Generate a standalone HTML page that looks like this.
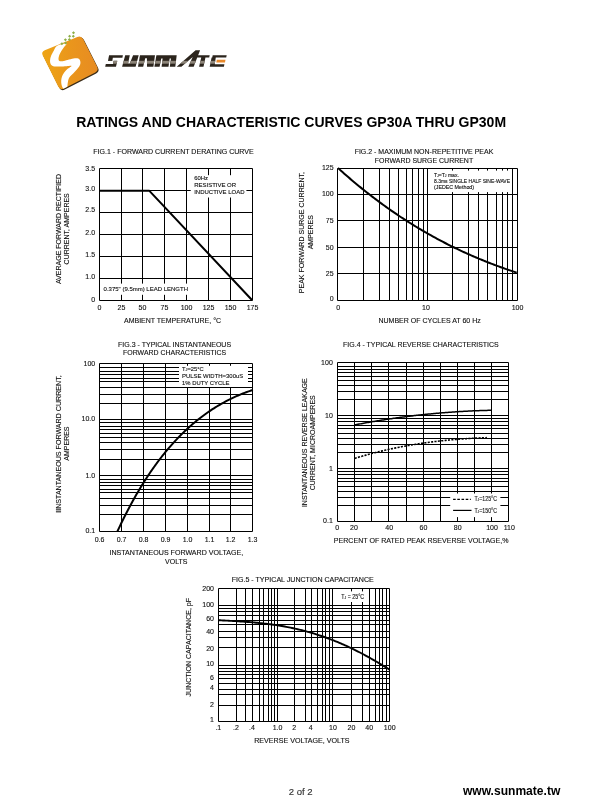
<!DOCTYPE html>
<html><head><meta charset="utf-8"><title>GP30A-GP30M Ratings and Characteristic Curves</title>
<style>
html,body{margin:0;padding:0;background:#fff;}
body{width:610px;height:810px;overflow:hidden;font-family:"Liberation Sans",sans-serif;}
svg{display:block;will-change:transform;}
svg text{font-family:"Liberation Sans",sans-serif;stroke:#111;stroke-width:0.12px;}
svg text[font-weight="bold"]{stroke:none;}
</style></head>
<body>
<svg width="610" height="810" viewBox="0 0 610 810">
<rect width="610" height="810" fill="#fff"/>
<defs>
<linearGradient id="lg" x1="0" y1="0" x2="1" y2="0"><stop offset="0" stop-color="#EEA515"/><stop offset="0.5" stop-color="#EA961C"/><stop offset="1" stop-color="#E78B22"/></linearGradient>
<clipPath id="sq"><path d="M42.77,55.56 Q40.90,51.80 44.79,50.21 L77.31,36.89 Q81.20,35.30 83.09,39.05 L97.11,66.85 Q99.00,70.60 95.26,72.52 L63.94,88.58 Q60.20,90.50 58.33,86.74 Z"/></clipPath>
</defs>
<path d="M43.67,56.46 Q41.80,52.70 45.69,51.11 L78.21,37.79 Q82.10,36.20 83.99,39.95 L98.01,67.75 Q99.90,71.50 96.16,73.42 L64.84,89.48 Q61.10,91.40 59.23,87.64 Z" fill="#3a2c18"/>
<path d="M42.77,55.56 Q40.90,51.80 44.79,50.21 L77.31,36.89 Q81.20,35.30 83.09,39.05 L97.11,66.85 Q99.00,70.60 95.26,72.52 L63.94,88.58 Q60.20,90.50 58.33,86.74 Z" fill="url(#lg)"/>
<path d="M57.21,45.73 C55.14,46.90 54.80,48.93 53.77,50.65 C52.74,52.37 51.63,54.42 51.01,56.06 C50.39,57.70 50.09,59.17 50.03,60.48 C49.97,61.79 50.08,62.97 50.62,63.92 C51.16,64.87 51.76,65.74 53.27,66.18 C54.78,66.62 57.46,66.58 59.67,66.58 C61.88,66.58 64.58,66.30 66.55,66.18 C68.52,66.07 71.23,65.49 71.47,65.89 C71.71,66.29 69.18,67.55 68.00,68.60 C66.82,69.65 65.38,70.93 64.40,72.20 C63.42,73.47 62.63,74.80 62.10,76.20 C61.57,77.60 61.28,79.12 61.20,80.60 C61.12,82.08 61.20,83.70 61.60,85.10 C62.00,86.50 62.69,88.35 63.60,89.00 C64.51,89.65 66.39,89.66 67.04,89.00 C67.70,88.34 67.37,86.37 67.53,85.06 C67.69,83.75 67.69,82.44 68.02,81.13 C68.35,79.82 68.60,78.51 69.50,77.20 C70.40,75.89 72.04,74.74 73.43,73.26 C74.82,71.78 76.71,69.91 77.86,68.35 C79.01,66.79 79.98,65.31 80.31,63.92 C80.64,62.53 80.31,60.92 79.82,59.99 C79.33,59.06 78.42,58.56 77.36,58.32 C76.30,58.08 75.07,58.24 73.43,58.52 C71.79,58.80 69.33,59.53 67.53,59.99 C65.73,60.45 63.99,61.12 62.62,61.27 C61.25,61.42 59.99,61.34 59.30,60.90 C58.61,60.45 58.50,59.58 58.50,58.60 C58.50,57.62 58.85,56.23 59.30,55.00 C59.75,53.77 60.48,52.40 61.20,51.20 C61.92,50.00 62.77,49.07 63.60,47.80 C64.43,46.53 67.27,43.95 66.20,43.60 C65.14,43.26 59.28,44.55 57.21,45.73Z" fill="#fff" clip-path="url(#sq)"/>
<rect x="60.80" y="42.60" width="2.2" height="2.2" fill="#8FAE45" transform="rotate(45 61.9 43.7)"/>
<rect x="64.30" y="38.70" width="2.2" height="2.2" fill="#8FAE45" transform="rotate(45 65.4 39.8)"/>
<rect x="68.50" y="35.20" width="2.2" height="2.2" fill="#8FAE45" transform="rotate(45 69.6 36.3)"/>
<rect x="72.40" y="31.60" width="2.2" height="2.2" fill="#8FAE45" transform="rotate(45 73.5 32.7)"/>
<rect x="64.50" y="41.90" width="2.2" height="2.2" fill="#8FAE45" transform="rotate(45 65.6 43.0)"/>
<rect x="68.30" y="38.50" width="2.2" height="2.2" fill="#8FAE45" transform="rotate(45 69.4 39.6)"/>
<rect x="72.20" y="35.20" width="2.2" height="2.2" fill="#8FAE45" transform="rotate(45 73.3 36.3)"/>
<defs><clipPath id="wm"><polygon points="109.10,55.30 122.90,55.30 122.40,57.80 108.60,57.80"/><polygon points="108.60,57.60 112.90,57.60 112.30,61.00 108.00,61.00"/><polygon points="113.60,60.80 117.30,60.80 116.60,64.30 112.90,64.30"/><polygon points="105.80,64.00 116.60,64.00 116.00,66.80 105.20,66.80"/><polygon points="125.20,55.30 129.80,55.30 127.40,66.70 122.10,66.70"/><polygon points="133.10,55.30 138.70,55.30 135.60,66.70 128.50,66.70"/><polygon points="123.00,63.60 134.60,63.60 134.00,66.70 122.40,66.70"/><polygon points="140.00,55.30 145.90,55.30 143.20,66.70 138.00,66.70"/><polygon points="146.90,55.30 155.00,55.30 153.40,66.70 147.00,66.70"/><polygon points="140.00,55.30 155.00,55.30 154.40,58.20 139.40,58.20"/><polygon points="156.40,55.30 161.90,55.30 159.60,66.70 154.40,66.70"/><polygon points="156.40,55.30 176.70,55.30 176.10,58.40 155.80,58.40"/><polygon points="163.00,55.30 170.10,55.30 168.50,66.70 161.60,66.70"/><polygon points="171.40,55.30 176.70,55.30 175.30,66.70 169.80,66.70"/><polygon points="176.70,66.70 195.60,50.20 200.10,50.20 193.70,66.70 188.30,66.70 192.70,56.90 181.40,66.70"/><polygon points="197.10,55.30 209.70,55.30 209.20,57.60 196.60,57.60"/><polygon points="201.30,57.40 205.50,57.40 203.50,66.70 199.10,66.70"/><polygon points="212.70,55.30 226.70,55.30 226.20,57.60 212.20,57.60"/><polygon points="211.60,57.40 215.80,57.40 214.40,66.70 209.70,66.70"/><polygon points="210.30,64.20 224.40,64.20 223.90,66.70 209.70,66.70"/></clipPath></defs>
<g clip-path="url(#wm)"><rect x="100" y="48" width="130" height="20" fill="#2b241c"/><rect x="100" y="60.8" width="130" height="2.9" fill="#8c8478"/></g>
<polygon points="216.80,59.80 225.50,59.80 225.00,62.50 216.30,62.50" fill="#E98A2C"/>
<line x1="99.50" y1="168.50" x2="99.50" y2="300.50" stroke="#000" stroke-width="1" />
<line x1="121.50" y1="168.50" x2="121.50" y2="300.50" stroke="#000" stroke-width="1" />
<line x1="142.50" y1="168.50" x2="142.50" y2="300.50" stroke="#000" stroke-width="1" />
<line x1="164.50" y1="168.50" x2="164.50" y2="300.50" stroke="#000" stroke-width="1" />
<line x1="186.50" y1="168.50" x2="186.50" y2="300.50" stroke="#000" stroke-width="1" />
<line x1="208.50" y1="168.50" x2="208.50" y2="300.50" stroke="#000" stroke-width="1" />
<line x1="230.50" y1="168.50" x2="230.50" y2="300.50" stroke="#000" stroke-width="1" />
<line x1="252.50" y1="168.50" x2="252.50" y2="300.50" stroke="#000" stroke-width="1" />
<line x1="99.50" y1="168.50" x2="252.50" y2="168.50" stroke="#000" stroke-width="1" />
<line x1="99.50" y1="190.50" x2="252.50" y2="190.50" stroke="#000" stroke-width="1" />
<line x1="99.50" y1="212.50" x2="252.50" y2="212.50" stroke="#000" stroke-width="1" />
<line x1="99.50" y1="234.50" x2="252.50" y2="234.50" stroke="#000" stroke-width="1" />
<line x1="99.50" y1="256.50" x2="252.50" y2="256.50" stroke="#000" stroke-width="1" />
<line x1="99.50" y1="278.50" x2="252.50" y2="278.50" stroke="#000" stroke-width="1" />
<line x1="99.50" y1="300.50" x2="252.50" y2="300.50" stroke="#000" stroke-width="1" />
<path d="M99.5,190.85 L149.4,190.85 L252.2,300.2" fill="none" stroke="#000" stroke-width="2.0" stroke-linejoin="round" stroke-linecap="butt" />
<rect x="190.70" y="175.20" width="55.70" height="22.30" fill="#fff"/>
<text x="194.20" y="179.90" font-size="5.8" text-anchor="start" font-weight="normal" fill="#111" textLength="13.80" lengthAdjust="spacingAndGlyphs" >60Hz</text>
<text x="194.20" y="186.90" font-size="5.8" text-anchor="start" font-weight="normal" fill="#111" textLength="41.90" lengthAdjust="spacingAndGlyphs" >RESISTIVE OR</text>
<text x="194.20" y="193.60" font-size="5.6" text-anchor="start" font-weight="normal" fill="#111" textLength="50.30" lengthAdjust="spacingAndGlyphs" >INDUCTIVE LOAD</text>
<rect x="100.50" y="283.60" width="89.50" height="11.20" fill="#fff"/>
<text x="103.60" y="290.90" font-size="6.0" text-anchor="start" font-weight="normal" fill="#111" textLength="84.40" lengthAdjust="spacingAndGlyphs" >0.375" (9.5mm) LEAD LENGTH</text>
<text x="173.50" y="154.32" font-size="7" text-anchor="middle" font-weight="normal" fill="#111" textLength="160.40" lengthAdjust="spacingAndGlyphs" >FIG.1 - FORWARD CURRENT DERATING CURVE</text>
<text x="95.10" y="171.12" font-size="7" text-anchor="end" font-weight="normal" fill="#111" >3.5</text>
<text x="95.10" y="191.22" font-size="7" text-anchor="end" font-weight="normal" fill="#111" >3.0</text>
<text x="95.10" y="212.12" font-size="7" text-anchor="end" font-weight="normal" fill="#111" >2.5</text>
<text x="95.10" y="235.32" font-size="7" text-anchor="end" font-weight="normal" fill="#111" >2.0</text>
<text x="95.10" y="257.02" font-size="7" text-anchor="end" font-weight="normal" fill="#111" >1.5</text>
<text x="95.10" y="279.12" font-size="7" text-anchor="end" font-weight="normal" fill="#111" >1.0</text>
<text x="95.10" y="302.12" font-size="7" text-anchor="end" font-weight="normal" fill="#111" >0</text>
<text x="99.50" y="310.22" font-size="7" text-anchor="middle" font-weight="normal" fill="#111" >0</text>
<text x="121.50" y="310.22" font-size="7" text-anchor="middle" font-weight="normal" fill="#111" >25</text>
<text x="142.50" y="310.22" font-size="7" text-anchor="middle" font-weight="normal" fill="#111" >50</text>
<text x="164.50" y="310.22" font-size="7" text-anchor="middle" font-weight="normal" fill="#111" >75</text>
<text x="186.50" y="310.22" font-size="7" text-anchor="middle" font-weight="normal" fill="#111" >100</text>
<text x="208.50" y="310.22" font-size="7" text-anchor="middle" font-weight="normal" fill="#111" >125</text>
<text x="230.50" y="310.22" font-size="7" text-anchor="middle" font-weight="normal" fill="#111" >150</text>
<text x="252.50" y="310.22" font-size="7" text-anchor="middle" font-weight="normal" fill="#111" >175</text>
<text x="172.50" y="322.82" font-size="7" text-anchor="middle" font-weight="normal" fill="#111" textLength="97.00" lengthAdjust="spacingAndGlyphs" >AMBIENT TEMPERATURE, °C</text>
<text x="0" y="0" font-size="7" text-anchor="middle" fill="#111" textLength="110.10" lengthAdjust="spacingAndGlyphs" transform="translate(60.82,229.00) rotate(-90)">AVERAGE FORWARD RECTIFIED</text>
<text x="0" y="0" font-size="7" text-anchor="middle" fill="#111" transform="translate(69.22,228.80) rotate(-90)">CURRENT, AMPERES</text>
<line x1="337.50" y1="168.50" x2="337.50" y2="300.50" stroke="#000" stroke-width="1" />
<line x1="363.50" y1="168.50" x2="363.50" y2="300.50" stroke="#000" stroke-width="1" />
<line x1="379.50" y1="168.50" x2="379.50" y2="300.50" stroke="#000" stroke-width="1" />
<line x1="389.50" y1="168.50" x2="389.50" y2="300.50" stroke="#000" stroke-width="1" />
<line x1="398.50" y1="168.50" x2="398.50" y2="300.50" stroke="#000" stroke-width="1" />
<line x1="406.50" y1="168.50" x2="406.50" y2="300.50" stroke="#000" stroke-width="1" />
<line x1="412.50" y1="168.50" x2="412.50" y2="300.50" stroke="#000" stroke-width="1" />
<line x1="418.50" y1="168.50" x2="418.50" y2="300.50" stroke="#000" stroke-width="1" />
<line x1="423.50" y1="168.50" x2="423.50" y2="300.50" stroke="#000" stroke-width="1" />
<line x1="427.50" y1="168.50" x2="427.50" y2="300.50" stroke="#000" stroke-width="1" />
<line x1="452.50" y1="168.50" x2="452.50" y2="300.50" stroke="#000" stroke-width="1" />
<line x1="468.50" y1="168.50" x2="468.50" y2="300.50" stroke="#000" stroke-width="1" />
<line x1="478.50" y1="168.50" x2="478.50" y2="300.50" stroke="#000" stroke-width="1" />
<line x1="487.50" y1="168.50" x2="487.50" y2="300.50" stroke="#000" stroke-width="1" />
<line x1="496.50" y1="168.50" x2="496.50" y2="300.50" stroke="#000" stroke-width="1" />
<line x1="502.50" y1="168.50" x2="502.50" y2="300.50" stroke="#000" stroke-width="1" />
<line x1="507.50" y1="168.50" x2="507.50" y2="300.50" stroke="#000" stroke-width="1" />
<line x1="512.50" y1="168.50" x2="512.50" y2="300.50" stroke="#000" stroke-width="1" />
<line x1="517.50" y1="168.50" x2="517.50" y2="300.50" stroke="#000" stroke-width="1" />
<line x1="337.50" y1="168.50" x2="517.50" y2="168.50" stroke="#000" stroke-width="1" />
<line x1="337.50" y1="194.50" x2="517.50" y2="194.50" stroke="#000" stroke-width="1" />
<line x1="337.50" y1="220.50" x2="517.50" y2="220.50" stroke="#000" stroke-width="1" />
<line x1="337.50" y1="247.50" x2="517.50" y2="247.50" stroke="#000" stroke-width="1" />
<line x1="337.50" y1="273.50" x2="517.50" y2="273.50" stroke="#000" stroke-width="1" />
<line x1="337.50" y1="300.50" x2="517.50" y2="300.50" stroke="#000" stroke-width="1" />
<path d="M338.00,168.03 L339.50,169.38 L341.00,170.73 L342.51,172.07 L344.01,173.40 L345.51,174.72 L347.01,176.03 L348.51,177.33 L350.01,178.62 L351.52,179.90 L353.02,181.17 L354.52,182.43 L356.02,183.69 L357.52,184.93 L359.02,186.17 L360.53,187.39 L362.03,188.61 L363.53,189.82 L365.03,191.02 L366.53,192.21 L368.03,193.39 L369.54,194.56 L371.04,195.72 L372.54,196.88 L374.04,198.03 L375.54,199.16 L377.04,200.29 L378.55,201.41 L380.05,202.52 L381.55,203.63 L383.05,204.72 L384.55,205.81 L386.05,206.89 L387.56,207.96 L389.06,209.02 L390.56,210.07 L392.06,211.11 L393.56,212.15 L395.06,213.18 L396.57,214.20 L398.07,215.21 L399.57,216.21 L401.07,217.21 L402.57,218.20 L404.07,219.18 L405.58,220.15 L407.08,221.11 L408.58,222.07 L410.08,223.01 L411.58,223.95 L413.08,224.89 L414.59,225.81 L416.09,226.73 L417.59,227.64 L419.09,228.54 L420.59,229.43 L422.09,230.32 L423.60,231.20 L425.10,232.07 L426.60,232.94 L428.10,233.79 L429.60,234.64 L431.10,235.49 L432.61,236.32 L434.11,237.15 L435.61,237.97 L437.11,238.78 L438.61,239.59 L440.11,240.39 L441.62,241.18 L443.12,241.96 L444.62,242.74 L446.12,243.51 L447.62,244.28 L449.12,245.04 L450.63,245.79 L452.13,246.53 L453.63,247.27 L455.13,248.00 L456.63,248.72 L458.13,249.44 L459.64,250.15 L461.14,250.85 L462.64,251.55 L464.14,252.24 L465.64,252.93 L467.14,253.61 L468.65,254.28 L470.15,254.94 L471.65,255.60 L473.15,256.25 L474.65,256.90 L476.15,257.54 L477.66,258.18 L479.16,258.80 L480.66,259.43 L482.16,260.04 L483.66,260.65 L485.16,261.26 L486.67,261.86 L488.17,262.45 L489.67,263.03 L491.17,263.62 L492.67,264.19 L494.17,264.76 L495.68,265.32 L497.18,265.88 L498.68,266.43 L500.18,266.98 L501.68,267.52 L503.18,268.06 L504.69,268.59 L506.19,269.11 L507.69,269.63 L509.19,270.15 L510.69,270.65 L512.19,271.16 L513.70,271.66 L515.20,272.15 L516.70,272.64" fill="none" stroke="#000" stroke-width="2.0" stroke-linejoin="round" stroke-linecap="butt" />
<rect x="428.20" y="170.60" width="81.80" height="21.50" fill="#fff"/>
<text x="434.00" y="176.70" font-size="5.0" text-anchor="start" font-weight="normal" fill="#111" textLength="24.90" lengthAdjust="spacingAndGlyphs" >T<tspan font-size="65%">J</tspan>=T<tspan font-size="65%">J</tspan> max.</text>
<text x="434.00" y="183.20" font-size="5.3" text-anchor="start" font-weight="normal" fill="#111" textLength="76.00" lengthAdjust="spacingAndGlyphs" >8.3ms SINGLE HALF SINE-WAVE</text>
<text x="434.00" y="188.50" font-size="5.3" text-anchor="start" font-weight="normal" fill="#111" >(JEDEC Method)</text>
<text x="424.00" y="153.92" font-size="7" text-anchor="middle" font-weight="normal" fill="#111" textLength="138.70" lengthAdjust="spacingAndGlyphs" >FIG.2 - MAXIMUM NON-REPETITIVE PEAK</text>
<text x="424.00" y="163.02" font-size="7" text-anchor="middle" font-weight="normal" fill="#111" textLength="98.30" lengthAdjust="spacingAndGlyphs" >FORWARD SURGE CURRENT</text>
<text x="333.60" y="170.42" font-size="7" text-anchor="end" font-weight="normal" fill="#111" >125</text>
<text x="333.60" y="196.42" font-size="7" text-anchor="end" font-weight="normal" fill="#111" >100</text>
<text x="333.60" y="223.12" font-size="7" text-anchor="end" font-weight="normal" fill="#111" >75</text>
<text x="333.60" y="249.52" font-size="7" text-anchor="end" font-weight="normal" fill="#111" >50</text>
<text x="333.60" y="275.62" font-size="7" text-anchor="end" font-weight="normal" fill="#111" >25</text>
<text x="333.60" y="301.32" font-size="7" text-anchor="end" font-weight="normal" fill="#111" >0</text>
<text x="338.20" y="310.32" font-size="7" text-anchor="middle" font-weight="normal" fill="#111" >0</text>
<text x="426.00" y="310.32" font-size="7" text-anchor="middle" font-weight="normal" fill="#111" >10</text>
<text x="517.50" y="310.32" font-size="7" text-anchor="middle" font-weight="normal" fill="#111" >100</text>
<text x="429.60" y="322.82" font-size="7" text-anchor="middle" font-weight="normal" fill="#111" textLength="102.30" lengthAdjust="spacingAndGlyphs" >NUMBER OF CYCLES AT 60 Hz</text>
<text x="0" y="0" font-size="7" text-anchor="middle" fill="#111" textLength="121.30" lengthAdjust="spacingAndGlyphs" transform="translate(304.02,232.60) rotate(-90)">PEAK FORWARD SURGE CURRENT,</text>
<text x="0" y="0" font-size="7" text-anchor="middle" fill="#111" transform="translate(313.22,232.20) rotate(-90)">AMPERES</text>
<line x1="99.50" y1="363.50" x2="99.50" y2="531.50" stroke="#000" stroke-width="1" />
<line x1="121.50" y1="363.50" x2="121.50" y2="531.50" stroke="#000" stroke-width="1" />
<line x1="143.50" y1="363.50" x2="143.50" y2="531.50" stroke="#000" stroke-width="1" />
<line x1="165.50" y1="363.50" x2="165.50" y2="531.50" stroke="#000" stroke-width="1" />
<line x1="187.50" y1="363.50" x2="187.50" y2="531.50" stroke="#000" stroke-width="1" />
<line x1="209.50" y1="363.50" x2="209.50" y2="531.50" stroke="#000" stroke-width="1" />
<line x1="230.50" y1="363.50" x2="230.50" y2="531.50" stroke="#000" stroke-width="1" />
<line x1="252.50" y1="363.50" x2="252.50" y2="531.50" stroke="#000" stroke-width="1" />
<line x1="99.50" y1="363.50" x2="252.50" y2="363.50" stroke="#000" stroke-width="1" />
<line x1="99.50" y1="367.50" x2="252.50" y2="367.50" stroke="#000" stroke-width="1" />
<line x1="99.50" y1="371.50" x2="252.50" y2="371.50" stroke="#000" stroke-width="1" />
<line x1="99.50" y1="374.50" x2="252.50" y2="374.50" stroke="#000" stroke-width="1" />
<line x1="99.50" y1="378.50" x2="252.50" y2="378.50" stroke="#000" stroke-width="1" />
<line x1="99.50" y1="381.50" x2="252.50" y2="381.50" stroke="#000" stroke-width="1" />
<line x1="99.50" y1="387.50" x2="252.50" y2="387.50" stroke="#000" stroke-width="1" />
<line x1="99.50" y1="394.50" x2="252.50" y2="394.50" stroke="#000" stroke-width="1" />
<line x1="99.50" y1="403.50" x2="252.50" y2="403.50" stroke="#000" stroke-width="1" />
<line x1="99.50" y1="419.50" x2="252.50" y2="419.50" stroke="#000" stroke-width="1" />
<line x1="99.50" y1="422.50" x2="252.50" y2="422.50" stroke="#000" stroke-width="1" />
<line x1="99.50" y1="426.50" x2="252.50" y2="426.50" stroke="#000" stroke-width="1" />
<line x1="99.50" y1="429.50" x2="252.50" y2="429.50" stroke="#000" stroke-width="1" />
<line x1="99.50" y1="433.50" x2="252.50" y2="433.50" stroke="#000" stroke-width="1" />
<line x1="99.50" y1="437.50" x2="252.50" y2="437.50" stroke="#000" stroke-width="1" />
<line x1="99.50" y1="442.50" x2="252.50" y2="442.50" stroke="#000" stroke-width="1" />
<line x1="99.50" y1="449.50" x2="252.50" y2="449.50" stroke="#000" stroke-width="1" />
<line x1="99.50" y1="459.50" x2="252.50" y2="459.50" stroke="#000" stroke-width="1" />
<line x1="99.50" y1="475.50" x2="252.50" y2="475.50" stroke="#000" stroke-width="1" />
<line x1="99.50" y1="479.50" x2="252.50" y2="479.50" stroke="#000" stroke-width="1" />
<line x1="99.50" y1="482.50" x2="252.50" y2="482.50" stroke="#000" stroke-width="1" />
<line x1="99.50" y1="485.50" x2="252.50" y2="485.50" stroke="#000" stroke-width="1" />
<line x1="99.50" y1="489.50" x2="252.50" y2="489.50" stroke="#000" stroke-width="1" />
<line x1="99.50" y1="492.50" x2="252.50" y2="492.50" stroke="#000" stroke-width="1" />
<line x1="99.50" y1="498.50" x2="252.50" y2="498.50" stroke="#000" stroke-width="1" />
<line x1="99.50" y1="505.50" x2="252.50" y2="505.50" stroke="#000" stroke-width="1" />
<line x1="99.50" y1="514.50" x2="252.50" y2="514.50" stroke="#000" stroke-width="1" />
<line x1="99.50" y1="531.50" x2="252.50" y2="531.50" stroke="#000" stroke-width="1" />
<path d="M117.39,531.39 L118.10,529.87 L118.82,528.35 L119.54,526.84 L120.26,525.32 L120.99,523.80 L121.73,522.28 L122.47,520.77 L123.22,519.25 L123.97,517.74 L124.73,516.23 L125.49,514.72 L126.26,513.21 L127.04,511.71 L127.82,510.21 L128.60,508.71 L129.40,507.21 L130.19,505.71 L131.00,504.22 L131.81,502.73 L132.63,501.24 L133.45,499.75 L134.28,498.27 L135.12,496.79 L135.96,495.32 L136.81,493.84 L137.66,492.38 L138.52,490.91 L139.39,489.45 L140.27,488.00 L141.15,486.54 L142.04,485.10 L142.93,483.65 L143.83,482.21 L144.74,480.78 L145.66,479.35 L146.58,477.92 L147.51,476.51 L148.45,475.09 L149.39,473.68 L150.34,472.28 L151.30,470.88 L152.27,469.49 L153.24,468.10 L154.22,466.72 L155.21,465.35 L156.21,463.98 L157.21,462.62 L158.22,461.27 L159.24,459.92 L160.27,458.58 L161.30,457.24 L162.34,455.92 L163.39,454.60 L164.45,453.28 L165.52,451.98 L166.59,450.68 L167.67,449.39 L168.76,448.11 L169.86,446.84 L170.97,445.57 L172.08,444.31 L173.21,443.06 L174.34,441.82 L175.48,440.59 L176.63,439.37 L177.79,438.15 L178.95,436.95 L180.13,435.75 L181.31,434.56 L182.51,433.39 L183.71,432.22 L184.92,431.06 L186.14,429.91 L187.37,428.77 L188.60,427.64 L189.85,426.53 L191.11,425.42 L192.37,424.32 L193.65,423.23 L194.93,422.16 L196.23,421.09 L197.53,420.04 L198.84,419.00 L200.16,417.96 L201.49,416.94 L202.84,415.93 L204.19,414.94 L205.55,413.95 L206.92,412.98 L208.30,412.02 L209.69,411.07 L211.09,410.13 L212.50,409.21 L213.92,408.29 L215.35,407.40 L216.79,406.51 L218.25,405.64 L219.71,404.78 L221.18,403.93 L222.66,403.09 L224.15,402.27 L225.66,401.47 L227.17,400.67 L228.70,399.90 L230.23,399.13 L231.78,398.38 L233.34,397.64 L234.90,396.92 L236.48,396.21 L238.07,395.52 L239.67,394.84 L241.29,394.18 L242.91,393.53 L244.54,392.90 L246.19,392.28 L247.85,391.68 L249.51,391.09 L251.19,390.52 L252.88,389.97" fill="none" stroke="#000" stroke-width="2.0" stroke-linejoin="round" stroke-linecap="butt" />
<rect x="179.00" y="365.80" width="69.00" height="21.20" fill="#fff"/>
<text x="182.00" y="370.50" font-size="5.8" text-anchor="start" font-weight="normal" fill="#111" >T<tspan font-size="65%">J</tspan>=25°C</text>
<text x="182.00" y="378.00" font-size="5.9" text-anchor="start" font-weight="normal" fill="#111" textLength="61.20" lengthAdjust="spacingAndGlyphs" >PULSE WIDTH=300uS</text>
<text x="182.00" y="384.60" font-size="5.9" text-anchor="start" font-weight="normal" fill="#111" >1% DUTY CYCLE</text>
<text x="174.60" y="347.42" font-size="7" text-anchor="middle" font-weight="normal" fill="#111" textLength="113.00" lengthAdjust="spacingAndGlyphs" >FIG.3 - TYPICAL INSTANTANEOUS</text>
<text x="174.60" y="354.92" font-size="7" text-anchor="middle" font-weight="normal" fill="#111" textLength="103.00" lengthAdjust="spacingAndGlyphs" >FORWARD CHARACTERISTICS</text>
<text x="95.20" y="366.32" font-size="7" text-anchor="end" font-weight="normal" fill="#111" >100</text>
<text x="95.20" y="421.32" font-size="7" text-anchor="end" font-weight="normal" fill="#111" >10.0</text>
<text x="95.20" y="478.32" font-size="7" text-anchor="end" font-weight="normal" fill="#111" >1.0</text>
<text x="95.20" y="532.52" font-size="7" text-anchor="end" font-weight="normal" fill="#111" >0.1</text>
<text x="99.50" y="541.92" font-size="7" text-anchor="middle" font-weight="normal" fill="#111" >0.6</text>
<text x="121.50" y="541.92" font-size="7" text-anchor="middle" font-weight="normal" fill="#111" >0.7</text>
<text x="143.50" y="541.92" font-size="7" text-anchor="middle" font-weight="normal" fill="#111" >0.8</text>
<text x="165.50" y="541.92" font-size="7" text-anchor="middle" font-weight="normal" fill="#111" >0.9</text>
<text x="187.50" y="541.92" font-size="7" text-anchor="middle" font-weight="normal" fill="#111" >1.0</text>
<text x="209.50" y="541.92" font-size="7" text-anchor="middle" font-weight="normal" fill="#111" >1.1</text>
<text x="230.50" y="541.92" font-size="7" text-anchor="middle" font-weight="normal" fill="#111" >1.2</text>
<text x="252.50" y="541.92" font-size="7" text-anchor="middle" font-weight="normal" fill="#111" >1.3</text>
<text x="176.30" y="554.82" font-size="7" text-anchor="middle" font-weight="normal" fill="#111" textLength="133.70" lengthAdjust="spacingAndGlyphs" >INSTANTANEOUS FORWARD VOLTAGE,</text>
<text x="176.30" y="564.02" font-size="7" text-anchor="middle" font-weight="normal" fill="#111" >VOLTS</text>
<text x="0" y="0" font-size="7" text-anchor="middle" fill="#111" textLength="137.50" lengthAdjust="spacingAndGlyphs" transform="translate(61.02,444.00) rotate(-90)">IINSTANTANEOUS FORWARD CURRENT,</text>
<text x="0" y="0" font-size="7" text-anchor="middle" fill="#111" transform="translate(68.92,443.60) rotate(-90)">AMPERES</text>
<line x1="337.50" y1="362.50" x2="337.50" y2="521.50" stroke="#000" stroke-width="1" />
<line x1="354.50" y1="362.50" x2="354.50" y2="521.50" stroke="#000" stroke-width="1" />
<line x1="371.50" y1="362.50" x2="371.50" y2="521.50" stroke="#000" stroke-width="1" />
<line x1="388.50" y1="362.50" x2="388.50" y2="521.50" stroke="#000" stroke-width="1" />
<line x1="406.50" y1="362.50" x2="406.50" y2="521.50" stroke="#000" stroke-width="1" />
<line x1="423.50" y1="362.50" x2="423.50" y2="521.50" stroke="#000" stroke-width="1" />
<line x1="440.50" y1="362.50" x2="440.50" y2="521.50" stroke="#000" stroke-width="1" />
<line x1="457.50" y1="362.50" x2="457.50" y2="521.50" stroke="#000" stroke-width="1" />
<line x1="474.50" y1="362.50" x2="474.50" y2="521.50" stroke="#000" stroke-width="1" />
<line x1="491.50" y1="362.50" x2="491.50" y2="521.50" stroke="#000" stroke-width="1" />
<line x1="508.50" y1="362.50" x2="508.50" y2="521.50" stroke="#000" stroke-width="1" />
<line x1="337.50" y1="362.50" x2="508.50" y2="362.50" stroke="#000" stroke-width="1" />
<line x1="337.50" y1="366.50" x2="508.50" y2="366.50" stroke="#000" stroke-width="1" />
<line x1="337.50" y1="369.50" x2="508.50" y2="369.50" stroke="#000" stroke-width="1" />
<line x1="337.50" y1="372.50" x2="508.50" y2="372.50" stroke="#000" stroke-width="1" />
<line x1="337.50" y1="376.50" x2="508.50" y2="376.50" stroke="#000" stroke-width="1" />
<line x1="337.50" y1="380.50" x2="508.50" y2="380.50" stroke="#000" stroke-width="1" />
<line x1="337.50" y1="385.50" x2="508.50" y2="385.50" stroke="#000" stroke-width="1" />
<line x1="337.50" y1="391.50" x2="508.50" y2="391.50" stroke="#000" stroke-width="1" />
<line x1="337.50" y1="399.50" x2="508.50" y2="399.50" stroke="#000" stroke-width="1" />
<line x1="337.50" y1="415.50" x2="508.50" y2="415.50" stroke="#000" stroke-width="1" />
<line x1="337.50" y1="418.50" x2="508.50" y2="418.50" stroke="#000" stroke-width="1" />
<line x1="337.50" y1="421.50" x2="508.50" y2="421.50" stroke="#000" stroke-width="1" />
<line x1="337.50" y1="425.50" x2="508.50" y2="425.50" stroke="#000" stroke-width="1" />
<line x1="337.50" y1="428.50" x2="508.50" y2="428.50" stroke="#000" stroke-width="1" />
<line x1="337.50" y1="433.50" x2="508.50" y2="433.50" stroke="#000" stroke-width="1" />
<line x1="337.50" y1="438.50" x2="508.50" y2="438.50" stroke="#000" stroke-width="1" />
<line x1="337.50" y1="444.50" x2="508.50" y2="444.50" stroke="#000" stroke-width="1" />
<line x1="337.50" y1="452.50" x2="508.50" y2="452.50" stroke="#000" stroke-width="1" />
<line x1="337.50" y1="468.50" x2="508.50" y2="468.50" stroke="#000" stroke-width="1" />
<line x1="337.50" y1="471.50" x2="508.50" y2="471.50" stroke="#000" stroke-width="1" />
<line x1="337.50" y1="474.50" x2="508.50" y2="474.50" stroke="#000" stroke-width="1" />
<line x1="337.50" y1="478.50" x2="508.50" y2="478.50" stroke="#000" stroke-width="1" />
<line x1="337.50" y1="481.50" x2="508.50" y2="481.50" stroke="#000" stroke-width="1" />
<line x1="337.50" y1="486.50" x2="508.50" y2="486.50" stroke="#000" stroke-width="1" />
<line x1="337.50" y1="491.50" x2="508.50" y2="491.50" stroke="#000" stroke-width="1" />
<line x1="337.50" y1="497.50" x2="508.50" y2="497.50" stroke="#000" stroke-width="1" />
<line x1="337.50" y1="505.50" x2="508.50" y2="505.50" stroke="#000" stroke-width="1" />
<line x1="337.50" y1="521.50" x2="508.50" y2="521.50" stroke="#000" stroke-width="1" />
<path d="M354.50,424.98 L355.65,424.75 L356.80,424.53 L357.95,424.31 L359.11,424.09 L360.26,423.87 L361.41,423.66 L362.56,423.44 L363.71,423.23 L364.86,423.02 L366.01,422.81 L367.16,422.61 L368.32,422.40 L369.47,422.20 L370.62,422.00 L371.77,421.80 L372.92,421.60 L374.07,421.40 L375.22,421.21 L376.37,421.02 L377.53,420.83 L378.68,420.64 L379.83,420.45 L380.98,420.26 L382.13,420.08 L383.28,419.90 L384.43,419.72 L385.58,419.54 L386.74,419.36 L387.89,419.18 L389.04,419.01 L390.19,418.84 L391.34,418.67 L392.49,418.50 L393.64,418.33 L394.79,418.17 L395.95,418.00 L397.10,417.84 L398.25,417.68 L399.40,417.52 L400.55,417.36 L401.70,417.21 L402.85,417.05 L404.00,416.90 L405.16,416.75 L406.31,416.60 L407.46,416.46 L408.61,416.31 L409.76,416.17 L410.91,416.03 L412.06,415.89 L413.21,415.75 L414.37,415.61 L415.52,415.48 L416.67,415.34 L417.82,415.21 L418.97,415.08 L420.12,414.95 L421.27,414.83 L422.42,414.70 L423.58,414.58 L424.73,414.46 L425.88,414.34 L427.03,414.22 L428.18,414.10 L429.33,413.99 L430.48,413.88 L431.63,413.77 L432.79,413.66 L433.94,413.55 L435.09,413.44 L436.24,413.34 L437.39,413.23 L438.54,413.13 L439.69,413.03 L440.84,412.93 L442.00,412.84 L443.15,412.74 L444.30,412.65 L445.45,412.56 L446.60,412.47 L447.75,412.38 L448.90,412.30 L450.05,412.21 L451.21,412.13 L452.36,412.05 L453.51,411.97 L454.66,411.89 L455.81,411.81 L456.96,411.74 L458.11,411.67 L459.26,411.59 L460.42,411.52 L461.57,411.46 L462.72,411.39 L463.87,411.33 L465.02,411.26 L466.17,411.20 L467.32,411.14 L468.47,411.08 L469.63,411.03 L470.78,410.97 L471.93,410.92 L473.08,410.87 L474.23,410.82 L475.38,410.77 L476.53,410.72 L477.68,410.68 L478.84,410.63 L479.99,410.59 L481.14,410.55 L482.29,410.51 L483.44,410.48 L484.59,410.44 L485.74,410.41 L486.89,410.38 L488.05,410.35 L489.20,410.32 L490.35,410.29 L491.50,410.27" fill="none" stroke="#000" stroke-width="1.5" stroke-linejoin="round" stroke-linecap="butt" />
<path d="M354.70,458.39 L355.81,458.05 L356.92,457.71 L358.03,457.38 L359.14,457.05 L360.25,456.72 L361.37,456.40 L362.48,456.08 L363.59,455.76 L364.70,455.44 L365.81,455.13 L366.92,454.83 L368.03,454.52 L369.14,454.22 L370.25,453.92 L371.36,453.63 L372.47,453.34 L373.59,453.05 L374.70,452.76 L375.81,452.48 L376.92,452.20 L378.03,451.92 L379.14,451.65 L380.25,451.38 L381.36,451.11 L382.47,450.85 L383.58,450.58 L384.69,450.33 L385.81,450.07 L386.92,449.82 L388.03,449.57 L389.14,449.32 L390.25,449.08 L391.36,448.84 L392.47,448.60 L393.58,448.36 L394.69,448.13 L395.80,447.90 L396.92,447.67 L398.03,447.45 L399.14,447.23 L400.25,447.01 L401.36,446.80 L402.47,446.58 L403.58,446.37 L404.69,446.17 L405.80,445.96 L406.91,445.76 L408.02,445.56 L409.14,445.37 L410.25,445.17 L411.36,444.98 L412.47,444.79 L413.58,444.61 L414.69,444.43 L415.80,444.25 L416.91,444.07 L418.02,443.89 L419.13,443.72 L420.24,443.55 L421.36,443.39 L422.47,443.22 L423.58,443.06 L424.69,442.90 L425.80,442.74 L426.91,442.59 L428.02,442.44 L429.13,442.29 L430.24,442.14 L431.35,442.00 L432.46,441.85 L433.58,441.71 L434.69,441.58 L435.80,441.44 L436.91,441.31 L438.02,441.18 L439.13,441.05 L440.24,440.93 L441.35,440.81 L442.46,440.68 L443.57,440.57 L444.68,440.45 L445.80,440.34 L446.91,440.23 L448.02,440.12 L449.13,440.01 L450.24,439.91 L451.35,439.81 L452.46,439.71 L453.57,439.61 L454.68,439.51 L455.79,439.42 L456.91,439.33 L458.02,439.24 L459.13,439.15 L460.24,439.07 L461.35,438.99 L462.46,438.91 L463.57,438.83 L464.68,438.75 L465.79,438.68 L466.90,438.61 L468.01,438.54 L469.13,438.47 L470.24,438.40 L471.35,438.34 L472.46,438.28 L473.57,438.22 L474.68,438.16 L475.79,438.11 L476.90,438.05 L478.01,438.00 L479.12,437.95 L480.23,437.91 L481.35,437.86 L482.46,437.82 L483.57,437.77 L484.68,437.73 L485.79,437.70 L486.90,437.66" fill="none" stroke="#000" stroke-width="1.6" stroke-linejoin="round" stroke-linecap="butt" stroke-dasharray="2.1 1.3"/>
<rect x="450.20" y="493.50" width="50.20" height="23.60" fill="#fff"/>
<line x1="453.10" y1="499.40" x2="470.80" y2="499.40" stroke="#000" stroke-width="1.2" stroke-dasharray="2.6 1.6"/>
<line x1="453.10" y1="510.40" x2="471.50" y2="510.40" stroke="#000" stroke-width="1.2" />
<text x="474.40" y="501.20" font-size="6.4" text-anchor="start" font-weight="normal" fill="#111" textLength="22.60" lengthAdjust="spacingAndGlyphs" >T<tspan font-size="65%">J</tspan>=125°C</text>
<text x="474.40" y="512.80" font-size="6.4" text-anchor="start" font-weight="normal" fill="#111" textLength="22.60" lengthAdjust="spacingAndGlyphs" >T<tspan font-size="65%">J</tspan>=150°C</text>
<text x="420.90" y="346.92" font-size="7" text-anchor="middle" font-weight="normal" fill="#111" textLength="155.70" lengthAdjust="spacingAndGlyphs" >FIG.4 - TYPICAL REVERSE CHARACTERISTICS</text>
<text x="332.80" y="365.12" font-size="7" text-anchor="end" font-weight="normal" fill="#111" >100</text>
<text x="332.80" y="418.02" font-size="7" text-anchor="end" font-weight="normal" fill="#111" >10</text>
<text x="332.80" y="470.62" font-size="7" text-anchor="end" font-weight="normal" fill="#111" >1</text>
<text x="332.80" y="523.02" font-size="7" text-anchor="end" font-weight="normal" fill="#111" >0.1</text>
<text x="337.20" y="529.82" font-size="7" text-anchor="middle" font-weight="normal" fill="#111" >0</text>
<text x="354.00" y="529.82" font-size="7" text-anchor="middle" font-weight="normal" fill="#111" >20</text>
<text x="389.20" y="529.82" font-size="7" text-anchor="middle" font-weight="normal" fill="#111" >40</text>
<text x="423.50" y="529.82" font-size="7" text-anchor="middle" font-weight="normal" fill="#111" >60</text>
<text x="457.70" y="529.82" font-size="7" text-anchor="middle" font-weight="normal" fill="#111" >80</text>
<text x="492.00" y="529.82" font-size="7" text-anchor="middle" font-weight="normal" fill="#111" >100</text>
<text x="509.30" y="529.82" font-size="7" text-anchor="middle" font-weight="normal" fill="#111" >110</text>
<text x="421.20" y="542.82" font-size="7" text-anchor="middle" font-weight="normal" fill="#111" textLength="174.80" lengthAdjust="spacingAndGlyphs" >PERCENT OF RATED PEAK RSEVERSE VOLTAGE,%</text>
<text x="0" y="0" font-size="7" text-anchor="middle" fill="#111" textLength="128.80" lengthAdjust="spacingAndGlyphs" transform="translate(306.52,442.70) rotate(-90)">INSTANTANEOUS REVERSE LEAKAGE</text>
<text x="0" y="0" font-size="7" text-anchor="middle" fill="#111" textLength="95.10" lengthAdjust="spacingAndGlyphs" transform="translate(314.62,442.75) rotate(-90)">CURRENT, MICROAMPERES</text>
<line x1="218.50" y1="588.50" x2="218.50" y2="721.50" stroke="#000" stroke-width="1" />
<line x1="236.50" y1="588.50" x2="236.50" y2="721.50" stroke="#000" stroke-width="1" />
<line x1="245.50" y1="588.50" x2="245.50" y2="721.50" stroke="#000" stroke-width="1" />
<line x1="252.50" y1="588.50" x2="252.50" y2="721.50" stroke="#000" stroke-width="1" />
<line x1="259.50" y1="588.50" x2="259.50" y2="721.50" stroke="#000" stroke-width="1" />
<line x1="263.50" y1="588.50" x2="263.50" y2="721.50" stroke="#000" stroke-width="1" />
<line x1="268.50" y1="588.50" x2="268.50" y2="721.50" stroke="#000" stroke-width="1" />
<line x1="271.50" y1="588.50" x2="271.50" y2="721.50" stroke="#000" stroke-width="1" />
<line x1="274.50" y1="588.50" x2="274.50" y2="721.50" stroke="#000" stroke-width="1" />
<line x1="277.50" y1="588.50" x2="277.50" y2="721.50" stroke="#000" stroke-width="1" />
<line x1="294.50" y1="588.50" x2="294.50" y2="721.50" stroke="#000" stroke-width="1" />
<line x1="305.50" y1="588.50" x2="305.50" y2="721.50" stroke="#000" stroke-width="1" />
<line x1="311.50" y1="588.50" x2="311.50" y2="721.50" stroke="#000" stroke-width="1" />
<line x1="317.50" y1="588.50" x2="317.50" y2="721.50" stroke="#000" stroke-width="1" />
<line x1="322.50" y1="588.50" x2="322.50" y2="721.50" stroke="#000" stroke-width="1" />
<line x1="325.50" y1="588.50" x2="325.50" y2="721.50" stroke="#000" stroke-width="1" />
<line x1="329.50" y1="588.50" x2="329.50" y2="721.50" stroke="#000" stroke-width="1" />
<line x1="332.50" y1="588.50" x2="332.50" y2="721.50" stroke="#000" stroke-width="1" />
<line x1="351.50" y1="588.50" x2="351.50" y2="721.50" stroke="#000" stroke-width="1" />
<line x1="362.50" y1="588.50" x2="362.50" y2="721.50" stroke="#000" stroke-width="1" />
<line x1="369.50" y1="588.50" x2="369.50" y2="721.50" stroke="#000" stroke-width="1" />
<line x1="375.50" y1="588.50" x2="375.50" y2="721.50" stroke="#000" stroke-width="1" />
<line x1="379.50" y1="588.50" x2="379.50" y2="721.50" stroke="#000" stroke-width="1" />
<line x1="382.50" y1="588.50" x2="382.50" y2="721.50" stroke="#000" stroke-width="1" />
<line x1="386.50" y1="588.50" x2="386.50" y2="721.50" stroke="#000" stroke-width="1" />
<line x1="389.50" y1="588.50" x2="389.50" y2="721.50" stroke="#000" stroke-width="1" />
<line x1="218.50" y1="588.50" x2="389.50" y2="588.50" stroke="#000" stroke-width="1" />
<line x1="218.50" y1="605.50" x2="389.50" y2="605.50" stroke="#000" stroke-width="1" />
<line x1="218.50" y1="608.50" x2="389.50" y2="608.50" stroke="#000" stroke-width="1" />
<line x1="218.50" y1="611.50" x2="389.50" y2="611.50" stroke="#000" stroke-width="1" />
<line x1="218.50" y1="615.50" x2="389.50" y2="615.50" stroke="#000" stroke-width="1" />
<line x1="218.50" y1="620.50" x2="389.50" y2="620.50" stroke="#000" stroke-width="1" />
<line x1="218.50" y1="624.50" x2="389.50" y2="624.50" stroke="#000" stroke-width="1" />
<line x1="218.50" y1="631.50" x2="389.50" y2="631.50" stroke="#000" stroke-width="1" />
<line x1="218.50" y1="637.50" x2="389.50" y2="637.50" stroke="#000" stroke-width="1" />
<line x1="218.50" y1="647.50" x2="389.50" y2="647.50" stroke="#000" stroke-width="1" />
<line x1="218.50" y1="665.50" x2="389.50" y2="665.50" stroke="#000" stroke-width="1" />
<line x1="218.50" y1="668.50" x2="389.50" y2="668.50" stroke="#000" stroke-width="1" />
<line x1="218.50" y1="671.50" x2="389.50" y2="671.50" stroke="#000" stroke-width="1" />
<line x1="218.50" y1="674.50" x2="389.50" y2="674.50" stroke="#000" stroke-width="1" />
<line x1="218.50" y1="678.50" x2="389.50" y2="678.50" stroke="#000" stroke-width="1" />
<line x1="218.50" y1="683.50" x2="389.50" y2="683.50" stroke="#000" stroke-width="1" />
<line x1="218.50" y1="689.50" x2="389.50" y2="689.50" stroke="#000" stroke-width="1" />
<line x1="218.50" y1="694.50" x2="389.50" y2="694.50" stroke="#000" stroke-width="1" />
<line x1="218.50" y1="705.50" x2="389.50" y2="705.50" stroke="#000" stroke-width="1" />
<line x1="218.50" y1="721.50" x2="389.50" y2="721.50" stroke="#000" stroke-width="1" />
<path d="M218.70,620.19 L220.14,620.27 L221.57,620.35 L223.01,620.43 L224.44,620.51 L225.88,620.59 L227.32,620.67 L228.75,620.75 L230.19,620.83 L231.63,620.91 L233.06,621.00 L234.50,621.08 L235.93,621.17 L237.37,621.26 L238.81,621.35 L240.24,621.44 L241.68,621.54 L243.11,621.63 L244.55,621.73 L245.99,621.84 L247.42,621.95 L248.86,622.06 L250.29,622.17 L251.73,622.29 L253.17,622.42 L254.60,622.54 L256.04,622.68 L257.48,622.81 L258.91,622.96 L260.35,623.10 L261.78,623.26 L263.22,623.41 L264.66,623.58 L266.09,623.75 L267.53,623.92 L268.96,624.11 L270.40,624.29 L271.84,624.49 L273.27,624.69 L274.71,624.90 L276.15,625.11 L277.58,625.33 L279.02,625.56 L280.45,625.80 L281.89,626.04 L283.33,626.29 L284.76,626.55 L286.20,626.81 L287.63,627.09 L289.07,627.37 L290.51,627.66 L291.94,627.96 L293.38,628.26 L294.82,628.58 L296.25,628.90 L297.69,629.23 L299.12,629.57 L300.56,629.92 L302.00,630.28 L303.43,630.64 L304.87,631.02 L306.30,631.40 L307.74,631.80 L309.18,632.20 L310.61,632.61 L312.05,633.03 L313.48,633.46 L314.92,633.90 L316.36,634.35 L317.79,634.81 L319.23,635.28 L320.67,635.75 L322.10,636.24 L323.54,636.74 L324.97,637.24 L326.41,637.76 L327.85,638.28 L329.28,638.82 L330.72,639.36 L332.15,639.92 L333.59,640.48 L335.03,641.05 L336.46,641.64 L337.90,642.23 L339.34,642.83 L340.77,643.45 L342.21,644.07 L343.64,644.70 L345.08,645.34 L346.52,645.99 L347.95,646.65 L349.39,647.32 L350.82,648.00 L352.26,648.69 L353.70,649.39 L355.13,650.10 L356.57,650.81 L358.01,651.54 L359.44,652.27 L360.88,653.02 L362.31,653.77 L363.75,654.53 L365.19,655.31 L366.62,656.09 L368.06,656.88 L369.49,657.67 L370.93,658.48 L372.37,659.30 L373.80,660.12 L375.24,660.95 L376.67,661.79 L378.11,662.64 L379.55,663.50 L380.98,664.37 L382.42,665.24 L383.86,666.12 L385.29,667.01 L386.73,667.90 L388.16,668.81 L389.60,669.72" fill="none" stroke="#000" stroke-width="1.9" stroke-linejoin="round" stroke-linecap="butt" />
<rect x="336.00" y="591.40" width="32.00" height="10.60" fill="#fff"/>
<text x="341.20" y="598.80" font-size="6.6" text-anchor="start" font-weight="normal" fill="#111" textLength="22.90" lengthAdjust="spacingAndGlyphs" >T<tspan font-size="65%">J</tspan> = 25°C</text>
<text x="302.75" y="582.22" font-size="7" text-anchor="middle" font-weight="normal" fill="#111" textLength="142.10" lengthAdjust="spacingAndGlyphs" >FIG.5 - TYPICAL JUNCTION CAPACITANCE</text>
<text x="214.00" y="591.22" font-size="7" text-anchor="end" font-weight="normal" fill="#111" >200</text>
<text x="214.00" y="607.22" font-size="7" text-anchor="end" font-weight="normal" fill="#111" >100</text>
<text x="214.00" y="621.12" font-size="7" text-anchor="end" font-weight="normal" fill="#111" >60</text>
<text x="214.00" y="634.12" font-size="7" text-anchor="end" font-weight="normal" fill="#111" >40</text>
<text x="214.00" y="651.02" font-size="7" text-anchor="end" font-weight="normal" fill="#111" >20</text>
<text x="214.00" y="666.12" font-size="7" text-anchor="end" font-weight="normal" fill="#111" >10</text>
<text x="214.00" y="680.42" font-size="7" text-anchor="end" font-weight="normal" fill="#111" >6</text>
<text x="214.00" y="690.12" font-size="7" text-anchor="end" font-weight="normal" fill="#111" >4</text>
<text x="214.00" y="707.02" font-size="7" text-anchor="end" font-weight="normal" fill="#111" >2</text>
<text x="214.00" y="722.12" font-size="7" text-anchor="end" font-weight="normal" fill="#111" >1</text>
<text x="218.30" y="729.72" font-size="7" text-anchor="middle" font-weight="normal" fill="#111" >.1</text>
<text x="236.00" y="729.72" font-size="7" text-anchor="middle" font-weight="normal" fill="#111" >.2</text>
<text x="252.00" y="729.72" font-size="7" text-anchor="middle" font-weight="normal" fill="#111" >.4</text>
<text x="277.60" y="729.72" font-size="7" text-anchor="middle" font-weight="normal" fill="#111" >1.0</text>
<text x="294.30" y="729.72" font-size="7" text-anchor="middle" font-weight="normal" fill="#111" >2</text>
<text x="310.60" y="729.72" font-size="7" text-anchor="middle" font-weight="normal" fill="#111" >4</text>
<text x="333.00" y="729.72" font-size="7" text-anchor="middle" font-weight="normal" fill="#111" >10</text>
<text x="351.40" y="729.72" font-size="7" text-anchor="middle" font-weight="normal" fill="#111" >20</text>
<text x="369.20" y="729.72" font-size="7" text-anchor="middle" font-weight="normal" fill="#111" >40</text>
<text x="389.70" y="729.72" font-size="7" text-anchor="middle" font-weight="normal" fill="#111" >100</text>
<text x="301.90" y="742.92" font-size="7" text-anchor="middle" font-weight="normal" fill="#111" textLength="95.40" lengthAdjust="spacingAndGlyphs" >REVERSE VOLTAGE, VOLTS</text>
<text x="0" y="0" font-size="7" text-anchor="middle" fill="#111" textLength="98.50" lengthAdjust="spacingAndGlyphs" transform="translate(191.12,647.20) rotate(-90)">JUNCTION CAPACITANCE, pF</text>
<text x="76.20" y="126.70" font-size="14" text-anchor="start" font-weight="bold" fill="#000" textLength="429.90" lengthAdjust="spacingAndGlyphs" >RATINGS AND CHARACTERISTIC CURVES GP30A THRU GP30M</text>
<text x="288.80" y="794.80" font-size="9.5" text-anchor="start" font-weight="normal" fill="#333" >2 of 2</text>
<text x="462.90" y="795.30" font-size="12" text-anchor="start" font-weight="bold" fill="#000" textLength="97.40" lengthAdjust="spacingAndGlyphs" >www.sunmate.tw</text>
</svg>
</body></html>
